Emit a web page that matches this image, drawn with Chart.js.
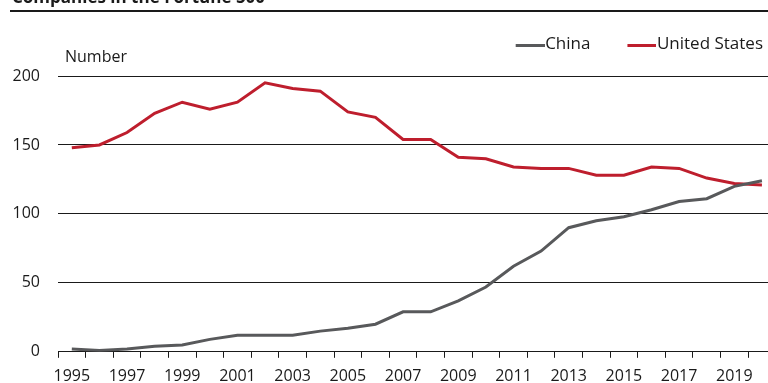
<!DOCTYPE html>
<html>
<head>
<meta charset="utf-8">
<script src="https://cdn.jsdelivr.net/npm/chart.js@4/dist/chart.umd.min.js"></script>
<style>
html,body{margin:0;padding:0;background:#fff;overflow:hidden}
canvas{display:block}
</style>
</head>
<body>
<canvas id="c" width="768" height="383"></canvas>
<script>
// ---- data ----
const years = [1995,1996,1997,1998,1999,2000,2001,2002,2003,2004,2005,2006,2007,2008,2009,2010,2011,2012,2013,2014,2015,2016,2017,2018,2019,2020];
const chinaValues = [2,1,2,4,5,9,12,12,12,15,17,20,29,29,37,47,62,73,90,95,98,103,109,111,120,124];
const usValues = [148,150,159,173,181,176,181,195,191,189,174,170,154,154,141,140,134,133,133,128,128,134,133,126,122,121];
const seriesNames = ['China', 'United States'];
const yTickValues = [0, 50, 100, 150, 200];
const chartTitle = 'Companies in the Fortune 500';
const unitLabel = 'Number';

const FONT = '"Open Sans"';
const TEXT = '#1a1a1a';
const GRID = '#1a1a1a';
const colChina = '#58595b';
const colUS = '#be1e2d';

function toPoints(vals){ return years.map((y, i) => ({x: y, y: vals[i]})); }

function legendLine(color){
  const c = document.createElement('canvas');
  c.width = 69; c.height = 5;
  const g = c.getContext('2d');
  g.fillStyle = color;
  g.fillRect(40, 2, 29, 3);
  return c;
}

const decor = {
  id: 'decor',
  beforeInit(chart){
    const box = {
      position: 'top', weight: 500, fullSize: true, options: {},
      isHorizontal(){ return true; },
      update(maxWidth){ this.width = maxWidth; this.height = 13; },
      draw(){}
    };
    Chart.layouts.addBox(chart, box);
  },
  afterDraw(chart){
    const ctx = chart.ctx;
    ctx.save();
    ctx.fillStyle = TEXT;
    ctx.font = 'bold 17px ' + FONT;
    ctx.textBaseline = 'alphabetic';
    ctx.textAlign = 'left';
    ctx.fillText(chartTitle, 12, 2.5);
    ctx.fillRect(10, 10, 758, 2);
    ctx.font = '16px ' + FONT;
    ctx.textBaseline = 'middle';
    ctx.fillText(unitLabel, 65, chart.chartArea.top - 19);
    ctx.restore();
  }
};

const yMin = yTickValues[0], yMax = yTickValues[yTickValues.length - 1];
const xMin = years[0] - 0.5;
const xMax = years[years.length - 1] + 0.22;

new Chart(document.getElementById('c'), {
  type: 'line',
  data: {
    datasets: [
      {label: seriesNames[0], data: toPoints(chinaValues), borderColor: colChina, backgroundColor: colChina, borderWidth: 3, pointRadius: 0, tension: 0},
      {label: seriesNames[1], data: toPoints(usValues), borderColor: colUS, backgroundColor: colUS, borderWidth: 3, pointRadius: 0, tension: 0}
    ]
  },
  plugins: [decor],
  options: {
    responsive: false,
    animation: false,
    devicePixelRatio: 1,
    layout: {padding: {top: 31, left: 0, right: 0, bottom: -12}},
    plugins: {
      title: {display: false},
      tooltip: {enabled: false},
      legend: {
        position: 'top', align: 'end',
        labels: {
          usePointStyle: true, pointStyleWidth: 53, padding: 5,
          color: TEXT, font: {family: FONT, size: 17},
          generateLabels(chart){
            const items = Chart.defaults.plugins.legend.labels.generateLabels(chart);
            items.forEach(it => { it.pointStyle = legendLine(chart.data.datasets[it.datasetIndex].borderColor); });
            return items;
          }
        }
      }
    },
    scales: {
      x: {
        type: 'linear', min: xMin, max: xMax,
        afterBuildTicks(scale){
          const t = [];
          for (let v = xMin; v <= xMax; v += 1) t.push({value: v});
          scale.ticks = t;
        },
        grid: {drawOnChartArea: false, drawTicks: true, tickLength: 6, color: GRID, lineWidth: 1},
        border: {display: true, color: GRID, width: 1},
        ticks: {
          autoSkip: false, maxRotation: 0, minRotation: 0, padding: 9, labelOffset: 13.8,
          color: TEXT, font: {family: FONT, size: 16},
          callback(value){ const yr = Math.round(value + 0.5); return yr % 2 === 1 ? String(yr) : ''; }
        }
      },
      y: {
        type: 'linear', min: yMin, max: yMax,
        afterFit(scale){ scale.width = 58; },
        afterBuildTicks(scale){ scale.ticks = yTickValues.map(v => ({value: v})); },
        grid: {drawTicks: false, color: GRID, lineWidth: 1},
        border: {display: false},
        ticks: {padding: 18, color: TEXT, font: {family: FONT, size: 16}}
      }
    }
  }
});
</script>
</body>
</html>
